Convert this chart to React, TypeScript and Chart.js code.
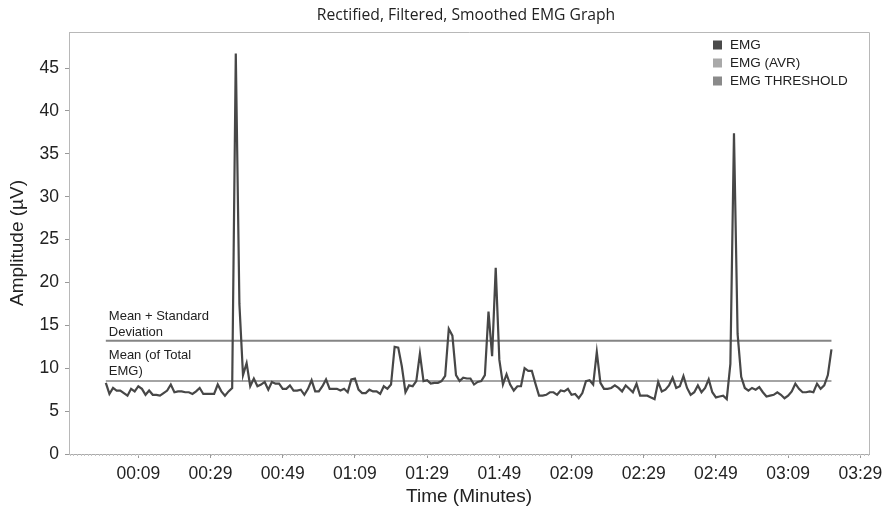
import React, { useEffect, useRef } from 'react';
import { Chart, registerables } from 'chart.js';

Chart.register(...registerables);

// EMG amplitude (µV), one sample per second from 00:00
const emgValues = [
  8.3, 7.0, 7.7, 7.4, 7.4, 7.1, 6.8, 7.6, 7.3, 7.9,
  7.6, 6.9, 7.4, 6.9, 6.9, 6.8, 7.1, 7.4, 8.1, 7.2,
  7.3, 7.3, 7.2, 7.2, 7.0, 7.3, 7.7, 7.0, 7.0, 7.0,
  7.0, 8.1, 7.3, 6.8, 7.3, 7.7, 46.7, 17.5, 9.2, 10.6,
  7.9, 8.8, 7.9, 8.1, 8.4, 7.5, 8.4, 8.2, 8.2, 7.6,
  7.6, 8.0, 7.4, 7.4, 7.5, 6.9, 7.6, 8.6, 7.3, 7.3,
  7.9, 8.7, 7.6, 7.6, 7.6, 7.4, 7.6, 7.2, 8.7, 8.8,
  7.5, 7.1, 7.1, 7.5, 7.3, 7.3, 7.0, 7.9, 7.6, 8.1,
  12.5, 12.4, 10.2, 7.2, 8.0, 7.9, 8.5, 11.7, 8.5, 8.6,
  8.2, 8.3, 8.3, 8.5, 9.1, 14.6, 13.8, 9.2, 8.5, 8.9,
  8.8, 8.8, 8.1, 8.4, 8.5, 9.2, 16.6, 11.4, 21.7, 11.0,
  8.1, 9.3, 8.1, 7.4, 7.9, 7.9, 10.0, 9.7, 9.7, 8.2,
  6.8, 6.8, 6.9, 7.2, 7.2, 6.9, 7.4, 7.3, 7.6, 6.9,
  7.0, 6.5, 7.1, 8.5, 8.6, 8.1, 11.9, 8.3, 7.6, 7.6,
  7.7, 8.0, 7.7, 7.3, 8.0, 7.6, 7.2, 8.2, 6.8, 6.8,
  6.8, 6.6, 6.4, 8.4, 7.3, 7.5, 8.0, 8.9, 7.7, 7.9,
  9.1, 7.7, 6.9, 7.2, 8.0, 7.2, 7.7, 8.7, 7.2, 6.6,
  6.7, 6.8, 6.4, 10.5, 37.4, 14.0, 9.0, 7.7, 7.4, 7.7,
  7.5, 7.8, 7.2, 6.7, 6.8, 6.9, 7.2, 6.9, 6.5, 6.8,
  7.3, 8.2, 7.6, 7.2, 7.2, 7.3, 7.2, 8.2, 7.6, 8.0,
  9.2, 12.2,
];
const sampleSeconds = emgValues.map((_, i) => i);

const meanValue = 8.52; // EMG (AVR)
const thresholdValue = 13.2; // EMG THRESHOLD (mean + SD)

const xTickSeconds = [9, 29, 49, 69, 89, 109, 129, 149, 169, 189, 209];
const xTickLabels = ['00:09', '00:29', '00:49', '01:09', '01:29', '01:49', '02:09', '02:29', '02:49', '03:09', '03:29'];
const yTickValues = [0, 5, 10, 15, 20, 25, 30, 35, 40, 45];

const legendLabels = ['EMG', 'EMG (AVR)', 'EMG THRESHOLD'];
const seriesColors = ['#4a4a4a', '#a9a9a9', '#8a8a8a'];
const lineColors = ['#474747', '#a4a4a4', '#858585'];
const thresholdNote = ['Mean + Standard', 'Deviation'];
const meanNote = ['Mean (of Total', 'EMG)'];
const chartTitle = 'Rectified, Filtered, Smoothed EMG Graph';

const FONT = '"Liberation Sans", Arial, sans-serif';

const decorPlugin = {
  id: 'decor',
  afterDraw(chart: any) {
    const { ctx, chartArea, scales } = chart;
    const xs = scales.x;
    const ys = scales.y;
    ctx.save();
    // top & right frame
    ctx.strokeStyle = '#b8b8b8';
    ctx.lineWidth = 1;
    ctx.beginPath();
    ctx.moveTo(chartArea.left, chartArea.top + 0.5);
    ctx.lineTo(chartArea.right + 0.5, chartArea.top + 0.5);
    ctx.lineTo(chartArea.right + 0.5, chartArea.bottom);
    ctx.stroke();
    // minor ticks (every second)
    ctx.strokeStyle = '#c4c4c4';
    ctx.beginPath();
    for (let s = Math.ceil(xs.min); s <= xs.max; s++) {
      const px = Math.round(xs.getPixelForValue(s)) + 0.5;
      ctx.moveTo(px, chartArea.bottom);
      ctx.lineTo(px, chartArea.bottom + 2);
    }
    ctx.stroke();

    // title
    ctx.fillStyle = '#222';
    ctx.font = '15.7px "Open Sans", sans-serif';
    ctx.textAlign = 'center';
    ctx.textBaseline = 'alphabetic';
    ctx.fillText(chartTitle, 466, 20);

    // legend
    ctx.font = '13.5px ' + FONT;
    ctx.textAlign = 'left';
    ctx.textBaseline = 'middle';
    legendLabels.forEach((label, i) => {
      const cy = 45 + i * 18;
      ctx.fillStyle = seriesColors[i];
      ctx.fillRect(713, cy - 4.5, 9, 9);
      ctx.fillStyle = '#222';
      ctx.fillText(label, 730, cy);
    });

    // annotations
    const x0 = xs.getPixelForValue(sampleSeconds[0]) + 3;
    ctx.font = '13px ' + FONT;
    ctx.textBaseline = 'alphabetic';
    ctx.fillStyle = '#222';
    const thY = ys.getPixelForValue(thresholdValue);
    ctx.fillText(thresholdNote[0], x0, thY - 20.5);
    ctx.fillText(thresholdNote[1], x0, thY - 5);
    const mY = ys.getPixelForValue(meanValue);
    ctx.fillText(meanNote[0], x0, mY - 21.5);
    ctx.fillText(meanNote[1], x0, mY - 6);
    ctx.restore();
  },
};

export default function App() {
  const canvasRef = useRef<HTMLCanvasElement | null>(null);

  useEffect(() => {
    if (!canvasRef.current) return;
    const first = sampleSeconds[0];
    const last = sampleSeconds[sampleSeconds.length - 1];
    const chart = new Chart(canvasRef.current, {
      type: 'line',
      data: {
        datasets: [
          {
            label: legendLabels[0],
            data: emgValues.map((v, i) => ({ x: sampleSeconds[i], y: v })),
            borderColor: lineColors[0],
            borderWidth: 2.2,
            pointRadius: 0,
            tension: 0,
            order: 0,
          },
          {
            label: legendLabels[1],
            data: [
              { x: first, y: meanValue },
              { x: last, y: meanValue },
            ],
            borderColor: lineColors[1],
            borderWidth: 2,
            pointRadius: 0,
            order: 1,
          },
          {
            label: legendLabels[2],
            data: [
              { x: first, y: thresholdValue },
              { x: last, y: thresholdValue },
            ],
            borderColor: lineColors[2],
            borderWidth: 2,
            pointRadius: 0,
            order: 1,
          },
        ],
      },
      options: {
        animation: false,
        responsive: true,
        maintainAspectRatio: false,
        layout: { padding: { top: 32, right: 20, left: 0, bottom: 0 } },
        plugins: {
          legend: { display: false },
          tooltip: { enabled: false },
          title: { display: false },
        },
        scales: {
          x: {
            type: 'linear',
            min: -10.2,
            max: 211.4,
            afterBuildTicks: (scale: any) => {
              scale.ticks = xTickSeconds.map((v) => ({ value: v }));
            },
            afterFit: (scale: any) => {
              scale.height = 60;
            },
            ticks: {
              autoSkip: false,
              maxRotation: 0,
              padding: 6,
              color: '#222',
              font: { family: FONT, size: 17.5 },
              callback: (value: any) => {
                const idx = xTickSeconds.indexOf(Number(value));
                return idx >= 0 ? xTickLabels[idx] : '';
              },
            },
            grid: { drawOnChartArea: false, tickLength: 4, color: '#999' },
            border: { color: '#aaa' },
            title: {
              display: true,
              text: 'Time (Minutes)',
              color: '#222',
              font: { family: FONT, size: 19 },
              padding: { top: 0, bottom: 6 },
            },
          },
          y: {
            type: 'linear',
            min: 0,
            max: 49.2,
            afterBuildTicks: (scale: any) => {
              scale.ticks = yTickValues.map((v) => ({ value: v }));
            },
            afterFit: (scale: any) => {
              scale.width = 69;
            },
            ticks: {
              padding: 6,
              color: '#222',
              font: { family: FONT, size: 17.5 },
            },
            grid: { drawOnChartArea: false, tickLength: 4, color: '#999' },
            border: { color: '#b8b8b8' },
            title: {
              display: true,
              text: 'Amplitude (µV)',
              color: '#222',
              font: { family: FONT, size: 19 },
              padding: { top: 6, bottom: 0 },
            },
          },
        },
      },
      plugins: [decorPlugin],
    });
    return () => chart.destroy();
  }, []);

  return (
    <div style={{ position: 'absolute', left: 0, top: 0, width: 889, height: 514 }}>
      <canvas ref={canvasRef} />
    </div>
  );
}
